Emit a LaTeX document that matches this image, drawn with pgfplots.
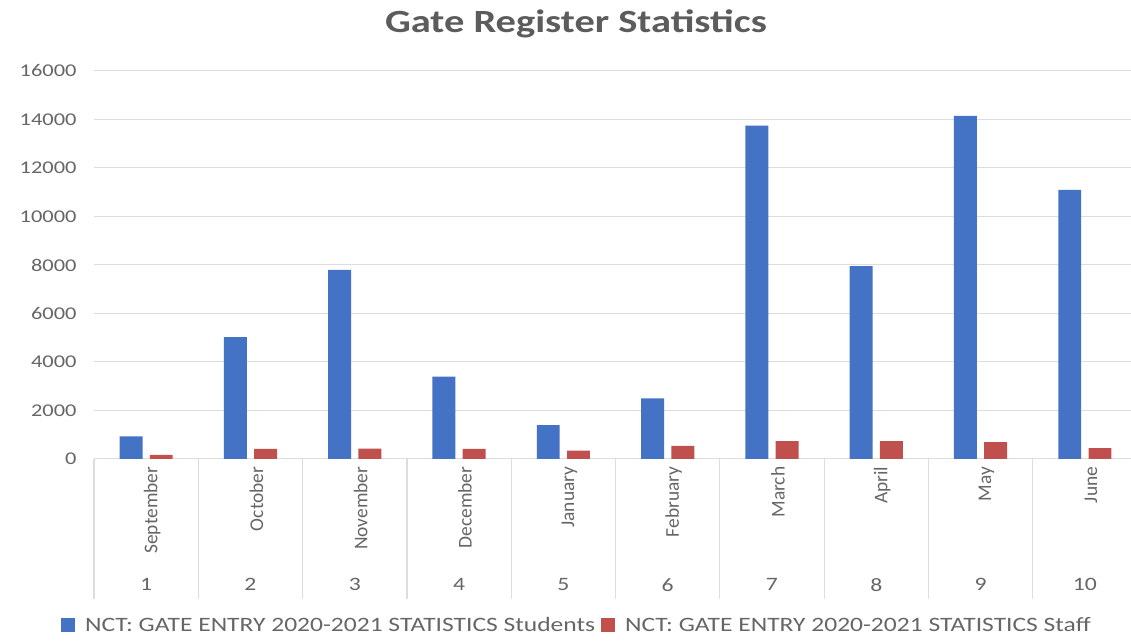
\documentclass[border=0pt]{standalone}
\usepackage{pgfplots}
\pgfplotsset{compat=1.18}
\usepackage{fontspec}
\setmainfont[FakeStretch=1.25]{Carlito}
\newfontfamily\plainfont[FakeStretch=1.0]{Carlito}
\definecolor{txt}{HTML}{666666}
\definecolor{sblue}{HTML}{4472C4}
\definecolor{sred}{HTML}{C0504D}
\definecolor{gridc}{HTML}{DDDDDD}
\begin{document}
\begin{tikzpicture}[x=1bp,y=1bp]
\useasboundingbox (0,0) rectangle (1131,643);
\fill[white] (0,0) rectangle (1131,643);
\node[font=\fontsize{32.5}{36}\selectfont\bfseries, text=txt!90!black] at (576,619) {Gate Register Statistics};
\begin{axis}[
  at={(94bp,184bp)}, anchor=south west,
  width=1043bp, height=388bp, scale only axis,
  xmin=-0.5, xmax=9.5, ymin=0, ymax=16000,
  clip=false,
  ytick={0,2000,...,16000},
  scaled y ticks=false,
  /pgf/number format/1000 sep={},
  /pgf/number format/assume math mode=true,
  axis lines*=left,
  y axis line style={draw=none},
  x axis line style={draw=gridc, line width=1bp},
  ytick style={draw=none},
  ymajorgrids, grid style={draw=gridc, line width=1bp},
  yticklabel style={font=\fontsize{18}{21}\selectfont, text=txt, xshift=-14bp},
  xtick={0,...,9},
  xticklabels={September,October,November,December,January,February,March,April,May,June},
  xticklabel style={font=\plainfont\fontsize{19.5}{21}\selectfont, text=txt, rotate=90, anchor=east, yshift=-6bp},
  xtick style={draw=none},
  ybar, bar width=0.22,
  legend style={at={(0.463,-0.428)}, anchor=center, draw=none, legend columns=2,
    font=\fontsize{20.5}{22}\selectfont, text=txt, /tikz/every even column/.append style={column sep=4bp}},
  legend image code/.code={\fill[#1] (0bp,-7bp) rectangle (14bp,7bp); \path (22bp,0bp);},
]
\addplot[fill=sblue, draw=none, bar shift=-0.145] coordinates {
(0,930) (1,5030) (2,7800) (3,3400) (4,1400) (5,2500) (6,13750) (7,7950) (8,14150) (9,11100)};
\addplot[fill=sred, draw=none, bar shift=0.145] coordinates {
(0,170) (1,420) (2,430) (3,420) (4,340) (5,540) (6,740) (7,740) (8,700) (9,450)};
\legend{NCT: GATE ENTRY 2020-2021 STATISTICS Students, NCT: GATE ENTRY 2020-2021 STATISTICS Staff}
\pgfplotsinvokeforeach{-0.5,0.5,1.5,2.5,3.5,4.5,5.5,6.5,7.5,8.5,9.5}{
  \draw[gridc, line width=1.2bp] (axis cs:#1,0) -- ++(0bp,-140bp);
}
\end{axis}
\begin{axis}[
  at={(94bp,184bp)}, anchor=south west,
  width=1043bp, height=388bp, scale only axis,
  xmin=-0.5, xmax=9.5, ymin=0, ymax=16000,
  hide y axis,
  axis x line*=bottom,
  x axis line style={draw=none},
  xtick={0,...,9},
  xticklabels={1,2,3,4,5,6,7,8,9,10},
  xtick style={draw=none},
  xticklabel style={font=\fontsize{19}{21}\selectfont, text=txt, anchor=north, yshift=-116bp},
]
\end{axis}
\end{tikzpicture}
\end{document}
